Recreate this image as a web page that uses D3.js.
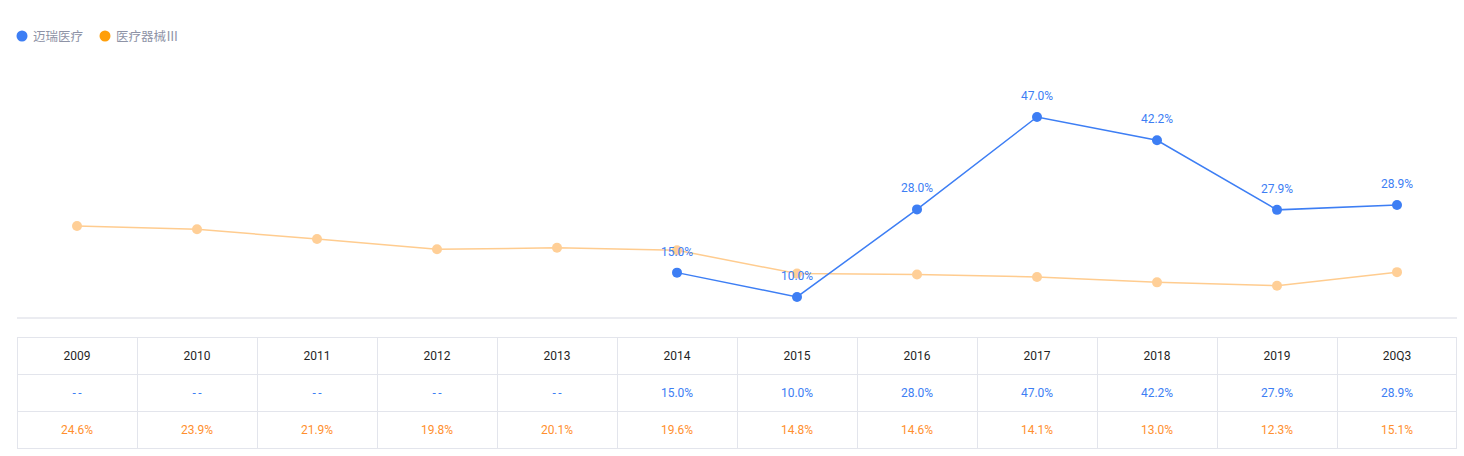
<!DOCTYPE html>
<html><head><meta charset="utf-8">
<script src="https://cdn.jsdelivr.net/npm/d3@7/dist/d3.min.js"></script>
<style>body{margin:0;background:#fff;} svg{display:block;font-family:Roboto,"Noto Sans CJK SC",sans-serif;}</style>
</head><body><svg id="c" width="1464" height="456"></svg>
<script>
const categories = ["2009","2010","2011","2012","2013","2014","2015","2016","2017","2018","2019","20Q3"];
const seriesNames = ["迈瑞医疗","医疗器械Ⅲ"];
const mindray = [null,null,null,null,null,15.0,10.0,28.0,47.0,42.2,27.9,28.9];
const industry = [24.6,23.9,21.9,19.8,20.1,19.6,14.8,14.6,14.1,13.0,12.3,15.1];

const svg = d3.select("#c");
const left = 17, right = 1457;
const x = d3.scaleBand().domain(categories).range([left,right]);
const cx = d => x(d) + x.bandwidth()/2;
const y = d3.scaleLinear().domain([0,50]).range([345.6,102.35]);
const blue = "#3d7ef4", orangeLine = "#ffcc8f", orangePt = "#ffcf97", orangeText = "#ff8f2e", legendOrange = "#ff9f0a";

// legend
const lg = svg.append("g");
[[22,"#3d7ef4",seriesNames[0]],[105,legendOrange,seriesNames[1]]].forEach(([lx,c,t])=>{
  lg.append("circle").attr("cx",lx).attr("cy",36).attr("r",5.5).attr("fill",c);
  lg.append("text").attr("x",lx+11).attr("y",40.5).attr("font-size",12.5).attr("fill","#8e93a6").text(t);
});

// separator
svg.append("line").attr("x1",left).attr("x2",right).attr("y1",318).attr("y2",318).attr("stroke","#e4e6ec").attr("stroke-width",1.5);

// industry line
const line = d3.line().defined(d=>d.v!=null).x(d=>cx(d.c)).y(d=>y(d.v));
const indData = categories.map((c,i)=>({c,v:industry[i]}));
svg.append("path").datum(indData).attr("d",line).attr("fill","none").attr("stroke",orangeLine).attr("stroke-width",1.5);
svg.selectAll(".ip").data(indData).enter().append("circle").attr("cx",d=>cx(d.c)).attr("cy",d=>y(d.v)).attr("r",5).attr("fill",orangePt);

// mindray line
const mData = categories.map((c,i)=>({c,v:mindray[i]}));
svg.append("path").datum(mData).attr("d",line).attr("fill","none").attr("stroke",blue).attr("stroke-width",1.5);
const mPts = mData.filter(d=>d.v!=null);
svg.selectAll(".mp").data(mPts).enter().append("circle").attr("cx",d=>cx(d.c)).attr("cy",d=>y(d.v)).attr("r",5).attr("fill",blue);
svg.selectAll(".ml").data(mPts).enter().append("text").attr("x",d=>cx(d.c)).attr("y",d=>y(d.v)-17).attr("text-anchor","middle").attr("font-size",12).attr("fill",blue).text(d=>d.v.toFixed(1)+"%");

// table
const tTop = 337, rh = 37;
const tg = svg.append("g");
for(let r=0;r<=3;r++) tg.append("line").attr("x1",left).attr("x2",right).attr("y1",tTop+r*rh+0.5).attr("y2",tTop+r*rh+0.5).attr("stroke","#e3e5ec");
categories.forEach(c=>{ tg.append("line").attr("x1",x(c)+0.5).attr("x2",x(c)+0.5).attr("y1",tTop).attr("y2",tTop+3*rh).attr("stroke","#e3e5ec"); });
tg.append("line").attr("x1",right-0.5).attr("x2",right-0.5).attr("y1",tTop).attr("y2",tTop+3*rh).attr("stroke","#e3e5ec");
const fmt = v => v==null ? "--" : v.toFixed(1)+"%";
function cell(cxv, yv, txt, color){
  const t = tg.append("text").attr("x",cxv).attr("y",yv).attr("text-anchor","middle").attr("font-size",12).attr("fill",color).text(txt);
  if(txt==="--") t.attr("letter-spacing",2.5).attr("dx",1.25);
}
categories.forEach((c,i)=>{
  cell(cx(c), tTop+rh/2+4, c, "#1f1f1f");
  cell(cx(c), tTop+rh*1.5+4, fmt(mindray[i]), blue);
  cell(cx(c), tTop+rh*2.5+4, fmt(industry[i]), orangeText);
});
</script></body></html>
